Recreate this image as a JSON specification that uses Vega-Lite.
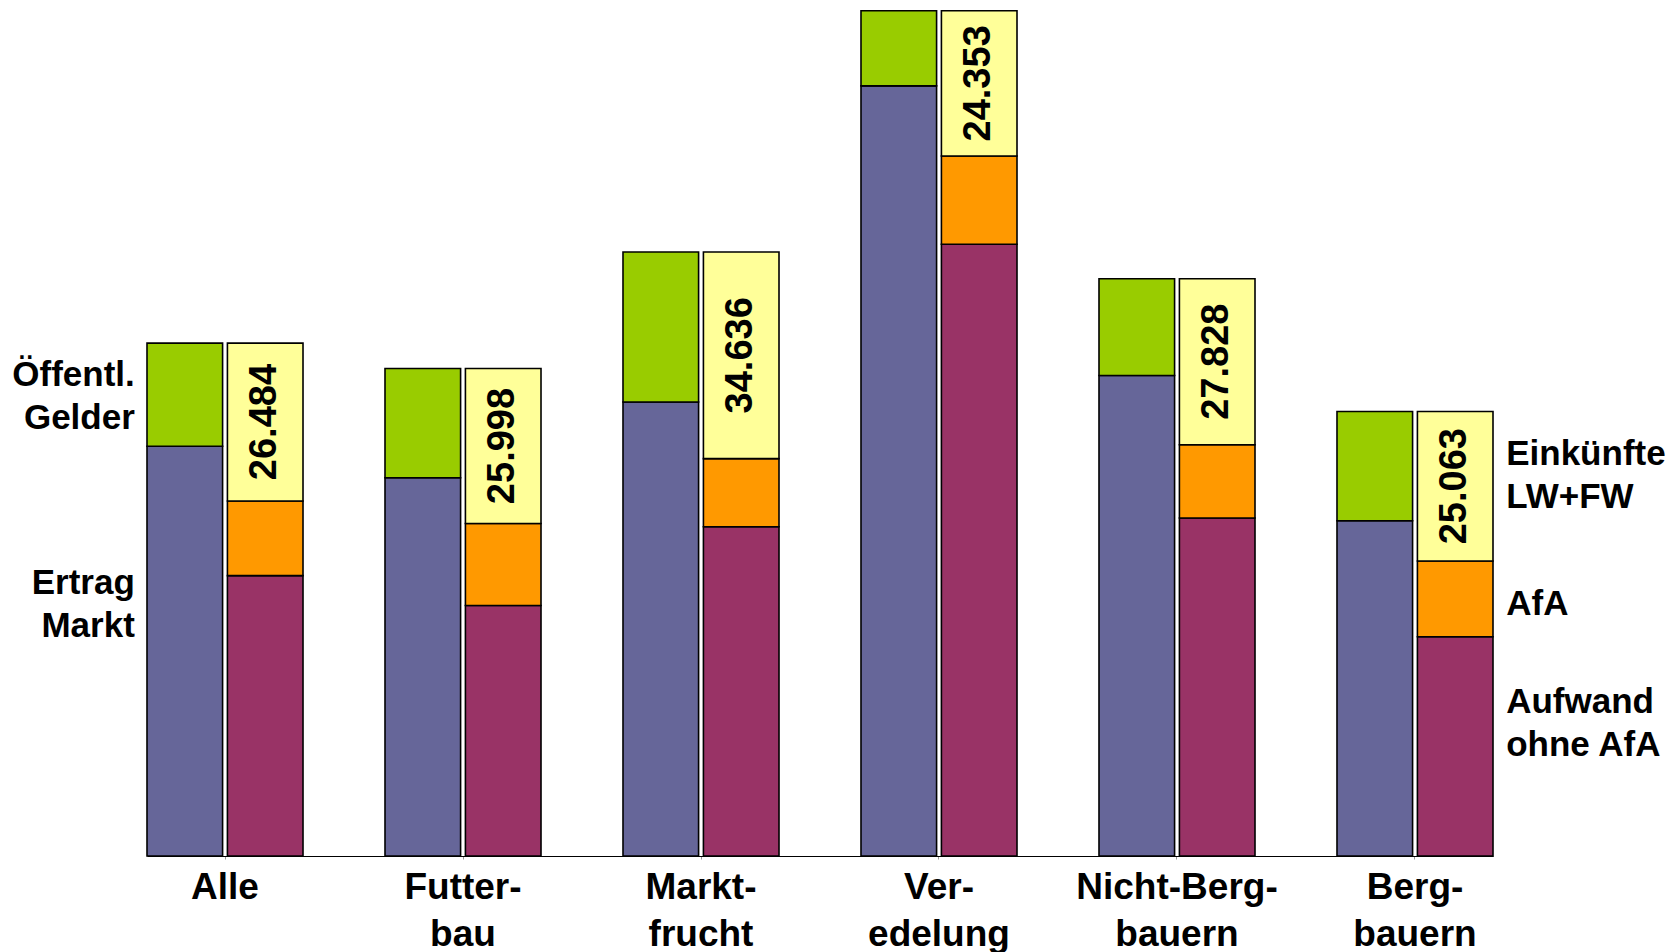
{
  "$schema": "https://vega.github.io/schema/vega-lite/v6.json",
  "width": 1346,
  "height": 856,
  "autosize": {"type": "none"},
  "padding": {"left": 147, "top": 0, "right": 174, "bottom": 96},
  "background": "white",
  "config": {
    "view": {"stroke": null},
    "locale": {"number": {"decimal": ",", "thousands": ".", "grouping": [3], "currency": ["", " €"]}},
    "text": {"font": "Liberation Sans", "fontWeight": "bold", "color": "black"}
  },
  "data": {
    "values": [
      {"group": "Alle", "side": "Ertrag", "segment": "Ertrag Markt", "ebene": 1, "value": 68700},
      {"group": "Alle", "side": "Ertrag", "segment": "Öffentl. Gelder", "ebene": 2, "value": 17284},
      {"group": "Alle", "side": "Aufwand", "segment": "Aufwand ohne AfA", "ebene": 1, "value": 47000},
      {"group": "Alle", "side": "Aufwand", "segment": "AfA", "ebene": 2, "value": 12500},
      {"group": "Alle", "side": "Aufwand", "segment": "Einkünfte LW+FW", "ebene": 3, "value": 26484},
      {"group": "Futter-\nbau", "side": "Ertrag", "segment": "Ertrag Markt", "ebene": 1, "value": 63400},
      {"group": "Futter-\nbau", "side": "Ertrag", "segment": "Öffentl. Gelder", "ebene": 2, "value": 18328},
      {"group": "Futter-\nbau", "side": "Aufwand", "segment": "Aufwand ohne AfA", "ebene": 1, "value": 42000},
      {"group": "Futter-\nbau", "side": "Aufwand", "segment": "AfA", "ebene": 2, "value": 13730},
      {"group": "Futter-\nbau", "side": "Aufwand", "segment": "Einkünfte LW+FW", "ebene": 3, "value": 25998},
      {"group": "Markt-\nfrucht", "side": "Ertrag", "segment": "Ertrag Markt", "ebene": 1, "value": 76100},
      {"group": "Markt-\nfrucht", "side": "Ertrag", "segment": "Öffentl. Gelder", "ebene": 2, "value": 25156},
      {"group": "Markt-\nfrucht", "side": "Aufwand", "segment": "Aufwand ohne AfA", "ebene": 1, "value": 55200},
      {"group": "Markt-\nfrucht", "side": "Aufwand", "segment": "AfA", "ebene": 2, "value": 11420},
      {"group": "Markt-\nfrucht", "side": "Aufwand", "segment": "Einkünfte LW+FW", "ebene": 3, "value": 34636},
      {"group": "Ver-\nedelung", "side": "Ertrag", "segment": "Ertrag Markt", "ebene": 1, "value": 129100},
      {"group": "Ver-\nedelung", "side": "Ertrag", "segment": "Öffentl. Gelder", "ebene": 2, "value": 12603},
      {"group": "Ver-\nedelung", "side": "Aufwand", "segment": "Aufwand ohne AfA", "ebene": 1, "value": 102550},
      {"group": "Ver-\nedelung", "side": "Aufwand", "segment": "AfA", "ebene": 2, "value": 14800},
      {"group": "Ver-\nedelung", "side": "Aufwand", "segment": "Einkünfte LW+FW", "ebene": 3, "value": 24353},
      {"group": "Nicht-Berg-\nbauern", "side": "Ertrag", "segment": "Ertrag Markt", "ebene": 1, "value": 80550},
      {"group": "Nicht-Berg-\nbauern", "side": "Ertrag", "segment": "Öffentl. Gelder", "ebene": 2, "value": 16228},
      {"group": "Nicht-Berg-\nbauern", "side": "Aufwand", "segment": "Aufwand ohne AfA", "ebene": 1, "value": 56650},
      {"group": "Nicht-Berg-\nbauern", "side": "Aufwand", "segment": "AfA", "ebene": 2, "value": 12300},
      {"group": "Nicht-Berg-\nbauern", "side": "Aufwand", "segment": "Einkünfte LW+FW", "ebene": 3, "value": 27828},
      {"group": "Berg-\nbauern", "side": "Ertrag", "segment": "Ertrag Markt", "ebene": 1, "value": 56200},
      {"group": "Berg-\nbauern", "side": "Ertrag", "segment": "Öffentl. Gelder", "ebene": 2, "value": 18323},
      {"group": "Berg-\nbauern", "side": "Aufwand", "segment": "Aufwand ohne AfA", "ebene": 1, "value": 36760},
      {"group": "Berg-\nbauern", "side": "Aufwand", "segment": "AfA", "ebene": 2, "value": 12700},
      {"group": "Berg-\nbauern", "side": "Aufwand", "segment": "Einkünfte LW+FW", "ebene": 3, "value": 25063}
    ]
  },
  "encoding": {
    "x": {
      "field": "group", "type": "nominal", "sort": null,
      "scale": {"paddingInner": 0.3445, "paddingOuter": 0},
      "axis": {
        "title": null, "labelAngle": 0, "domainColor": "#000000", "domainWidth": 1,
        "ticks": true, "tickSize": 3, "tickColor": "#999999",
        "labelFont": "Liberation Sans", "labelFontSize": 37, "labelFontWeight": "bold",
        "labelColor": "#000000", "labelPadding": 10, "labelLineHeight": 47, "labelLimit": 500,
        "labelExpr": "split(datum.label, '\\n')"
      }
    },
    "xOffset": {"field": "side", "type": "nominal", "sort": ["Ertrag", "Aufwand"], "scale": {"paddingInner": 0.06, "paddingOuter": 0}},
    "y": {"field": "value", "type": "quantitative", "stack": "zero", "scale": {"domain": [0, 143500], "nice": false}, "axis": null},
    "order": {"field": "ebene", "type": "quantitative"},
    "detail": {"field": "segment", "type": "nominal"}
  },
  "layer": [
    {
      "mark": {"type": "bar", "stroke": "#000000", "strokeWidth": 1.6},
      "encoding": {
        "color": {
          "field": "segment", "type": "nominal", "legend": null,
          "scale": {
            "domain": ["Ertrag Markt", "Öffentl. Gelder", "Aufwand ohne AfA", "AfA", "Einkünfte LW+FW"],
            "range": ["#666699", "#99CC00", "#993366", "#FF9900", "#FFFF99"]
          }
        }
      }
    },
    {
      "mark": {"type": "text", "angle": 270, "align": "center", "baseline": "middle", "fontSize": 38},
      "encoding": {
        "y": {"field": "value", "type": "quantitative", "stack": "zero", "bandPosition": 0.5},
        "text": {"condition": {"test": "datum.segment == 'Einkünfte LW+FW'", "field": "value", "type": "quantitative", "format": ",.0f"}, "value": ""}
      }
    },
    {
      "mark": {"type": "text", "align": "right", "baseline": "middle", "fontSize": 35, "lineHeight": 43, "dx": -50, "dy": -19.5},
      "encoding": {
        "y": {"field": "value", "type": "quantitative", "stack": "zero", "bandPosition": 0.5},
        "text": {"condition": {"test": "datum.group == 'Alle' && datum.segment == 'Öffentl. Gelder'", "value": ["Öffentl.", "Gelder"]}, "value": ""}
      }
    },
    {
      "mark": {"type": "text", "align": "right", "baseline": "middle", "fontSize": 35, "lineHeight": 43, "dx": -50, "dy": -68.5},
      "encoding": {
        "y": {"field": "value", "type": "quantitative", "stack": "zero", "bandPosition": 0.5},
        "text": {"condition": {"test": "datum.group == 'Alle' && datum.segment == 'Ertrag Markt'", "value": ["Ertrag", "Markt"]}, "value": ""}
      }
    },
    {
      "mark": {"type": "text", "align": "left", "baseline": "middle", "fontSize": 35, "lineHeight": 43, "dx": 51, "dy": -32.5},
      "encoding": {
        "y": {"field": "value", "type": "quantitative", "stack": "zero", "bandPosition": 0.5},
        "text": {"condition": {"test": "datum.group == 'Berg-\\nbauern' && datum.segment == 'Einkünfte LW+FW'", "value": ["Einkünfte", "LW+FW"]}, "value": ""}
      }
    },
    {
      "mark": {"type": "text", "align": "left", "baseline": "middle", "fontSize": 35, "lineHeight": 43, "dx": 51, "dy": 5},
      "encoding": {
        "y": {"field": "value", "type": "quantitative", "stack": "zero", "bandPosition": 0.5},
        "text": {"condition": {"test": "datum.group == 'Berg-\\nbauern' && datum.segment == 'AfA'", "value": "AfA"}, "value": ""}
      }
    },
    {
      "mark": {"type": "text", "align": "left", "baseline": "middle", "fontSize": 35, "lineHeight": 43, "dx": 51, "dy": -44.5},
      "encoding": {
        "y": {"field": "value", "type": "quantitative", "stack": "zero", "bandPosition": 0.5},
        "text": {"condition": {"test": "datum.group == 'Berg-\\nbauern' && datum.segment == 'Aufwand ohne AfA'", "value": ["Aufwand", "ohne AfA"]}, "value": ""}
      }
    }
  ]
}
